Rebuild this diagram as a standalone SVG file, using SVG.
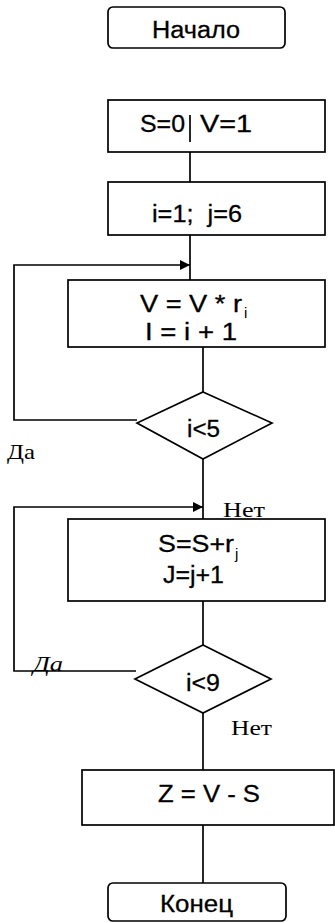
<svg xmlns="http://www.w3.org/2000/svg" width="335" height="923" viewBox="0 0 335 923">
<style>
.b{fill:#fff;stroke:#000;stroke-width:1.7}
.c{fill:none;stroke:#000;stroke-width:1.7}
.t{font-family:"Liberation Sans",Arial,sans-serif;font-size:23.5px;fill:#000;stroke:#000;stroke-width:0.3}
.s{font-family:"Liberation Sans",Arial,sans-serif;font-size:15px;fill:#000}
.r{font-family:"Liberation Serif","Times New Roman",serif;font-size:22px;fill:#000}
</style>
<defs>
<marker id="a" viewBox="0 0 10 10" refX="10" refY="5" markerWidth="11" markerHeight="10" markerUnits="userSpaceOnUse" orient="auto"><path d="M0,0 L10,5 L0,10 z" fill="#000"/></marker>
</defs>
<rect width="335" height="923" fill="#fff"/>
<g id="connectors">
<line class="c" x1="190" y1="152" x2="190" y2="182"/>
<line class="c" x1="190" y1="235" x2="190" y2="280"/>
<path class="c" d="M137,420 H14 V265 H190" marker-end="url(#a)"/>
<line class="c" x1="203" y1="347" x2="203" y2="392"/>
<line class="c" x1="203" y1="459" x2="203" y2="519"/>
<path class="c" d="M136,671 H14 V507 H203" marker-end="url(#a)"/>
<line class="c" x1="203" y1="601" x2="203" y2="645"/>
<line class="c" x1="203" y1="713" x2="203" y2="770"/>
<line class="c" x1="203" y1="825" x2="203" y2="883"/>
<text class="r" x="7" y="459" textLength="28" lengthAdjust="spacingAndGlyphs">Да</text>
<text class="r" x="223" y="517" textLength="42" lengthAdjust="spacingAndGlyphs">Нет</text>
<text class="r" x="33" y="671" textLength="30" lengthAdjust="spacingAndGlyphs" font-style="italic">Да</text>
<text class="r" x="231" y="735" textLength="41" lengthAdjust="spacingAndGlyphs">Нет</text>
</g>
<g id="start">
<rect class="b" x="108" y="7" width="177" height="41" rx="5"/>
<text class="t" x="152" y="38" textLength="88" lengthAdjust="spacingAndGlyphs">Начало</text>
</g>
<g id="init1">
<rect class="b" x="108" y="100" width="217" height="52"/>
<text class="t" x="140" y="132" textLength="45" lengthAdjust="spacingAndGlyphs">S=0</text>
<line class="c" x1="190" y1="115" x2="190" y2="142" stroke-width="1.2"/>
<text class="t" x="200" y="132" textLength="52" lengthAdjust="spacingAndGlyphs">V=1</text>
</g>
<g id="init2">
<rect class="b" x="108" y="182" width="217" height="53"/>
<text class="t" x="152" y="222" textLength="90" lengthAdjust="spacingAndGlyphs">i=1;&#160; j=6</text>
</g>
<g id="loop1">
<rect class="b" x="68" y="280" width="257" height="67"/>
<text class="t" x="140" y="312" textLength="102" lengthAdjust="spacingAndGlyphs">V = V * r</text>
<text class="s" x="244" y="318">i</text>
<text class="t" x="145" y="340" textLength="92" lengthAdjust="spacingAndGlyphs">I = i + 1</text>
</g>
<g id="cond1">
<polygon class="b" points="203,392 272,423 203,459 137,423"/>
<text class="t" x="187" y="437" textLength="33" lengthAdjust="spacingAndGlyphs">i&lt;5</text>
</g>
<g id="loop2">
<rect class="b" x="68" y="519" width="257" height="82"/>
<text class="t" x="158" y="552" textLength="76" lengthAdjust="spacingAndGlyphs">S=S+r</text>
<text class="s" x="235" y="559">j</text>
<text class="t" x="163" y="583" textLength="61" lengthAdjust="spacingAndGlyphs">J=j+1</text>
</g>
<g id="cond2">
<polygon class="b" points="203,645 271,679 203,713 135,679"/>
<text class="t" x="186" y="691" textLength="34" lengthAdjust="spacingAndGlyphs">i&lt;9</text>
</g>
<g id="result">
<rect class="b" x="82" y="770" width="252" height="55"/>
<text class="t" x="158" y="802" textLength="102" lengthAdjust="spacingAndGlyphs">Z = V - S</text>
</g>
<g id="end">
<rect class="b" x="108" y="883" width="178" height="38" rx="5"/>
<text class="t" x="160" y="912" textLength="73" lengthAdjust="spacingAndGlyphs">Конец</text>
</g>
</svg>
